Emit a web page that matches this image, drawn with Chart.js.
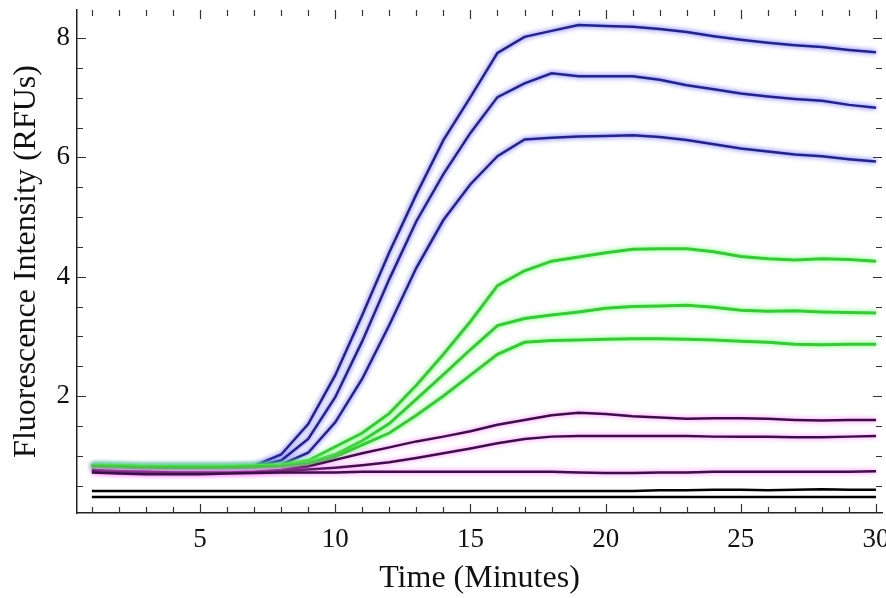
<!DOCTYPE html>
<html><head><meta charset="utf-8">
<script src="https://cdn.jsdelivr.net/npm/chart.js@4.4.1/dist/chart.umd.min.js"></script>
<style>html,body{margin:0;padding:0;background:#fff}</style>
</head><body>
<canvas id="c" width="886" height="598"></canvas>
<script>
const minutes = [1,2,3,4,5,6,7,8,9,10,11,12,13,14,15,16,17,18,19,20,21,22,23,24,25,26,27,28,29,30];
const blue1 = [0.84,0.83,0.82,0.82,0.82,0.82,0.83,1.02,1.53,2.35,3.36,4.41,5.38,6.29,7.01,7.75,8.02,8.12,8.22,8.20,8.19,8.15,8.10,8.03,7.97,7.92,7.88,7.85,7.80,7.76];
const blue2 = [0.83,0.82,0.81,0.81,0.81,0.81,0.82,0.92,1.28,1.98,2.92,3.96,4.93,5.72,6.41,7.01,7.24,7.41,7.36,7.36,7.36,7.30,7.21,7.14,7.07,7.02,6.98,6.95,6.88,6.83];
const blue3 = [0.82,0.81,0.80,0.80,0.80,0.80,0.81,0.85,1.05,1.56,2.29,3.19,4.15,4.95,5.55,6.02,6.30,6.33,6.35,6.36,6.37,6.34,6.29,6.22,6.15,6.10,6.05,6.02,5.97,5.93];
const green1 = [0.84,0.83,0.82,0.82,0.82,0.82,0.83,0.84,0.92,1.15,1.38,1.71,2.18,2.70,3.25,3.85,4.10,4.26,4.33,4.40,4.46,4.47,4.47,4.42,4.34,4.30,4.28,4.30,4.29,4.26];
const green2 = [0.83,0.82,0.81,0.81,0.81,0.81,0.82,0.83,0.88,1.02,1.25,1.54,1.95,2.36,2.78,3.18,3.30,3.36,3.41,3.47,3.50,3.51,3.52,3.49,3.44,3.42,3.43,3.41,3.40,3.39];
const green3 = [0.82,0.81,0.80,0.80,0.80,0.80,0.81,0.82,0.86,0.98,1.18,1.38,1.68,2.00,2.35,2.70,2.90,2.93,2.94,2.95,2.96,2.96,2.95,2.94,2.92,2.90,2.87,2.86,2.87,2.87];
const purple1 = [0.76,0.74,0.73,0.72,0.72,0.72,0.73,0.76,0.82,0.93,1.04,1.14,1.24,1.32,1.41,1.52,1.60,1.68,1.72,1.70,1.66,1.64,1.62,1.63,1.63,1.62,1.60,1.59,1.60,1.60];
const purple2 = [0.74,0.72,0.71,0.71,0.71,0.71,0.72,0.74,0.77,0.80,0.84,0.89,0.96,1.04,1.12,1.21,1.28,1.32,1.33,1.33,1.33,1.33,1.33,1.32,1.32,1.32,1.31,1.31,1.32,1.33];
const purple3 = [0.72,0.70,0.69,0.69,0.69,0.70,0.71,0.72,0.72,0.72,0.73,0.73,0.73,0.73,0.73,0.73,0.73,0.73,0.72,0.71,0.71,0.72,0.72,0.73,0.73,0.73,0.73,0.73,0.73,0.74];
const black1 = [0.41,0.41,0.41,0.41,0.41,0.41,0.41,0.41,0.41,0.41,0.41,0.41,0.41,0.41,0.41,0.41,0.41,0.41,0.41,0.41,0.41,0.42,0.42,0.43,0.43,0.42,0.43,0.44,0.43,0.43];
const black2 = [0.31,0.31,0.31,0.31,0.31,0.31,0.31,0.31,0.31,0.31,0.31,0.31,0.31,0.31,0.31,0.31,0.31,0.31,0.31,0.31,0.31,0.31,0.31,0.31,0.31,0.31,0.31,0.31,0.31,0.31];

const xTickLabels = [5,10,15,20,25,30];
const yTickLabels = [2,4,6,8];
const xMinorTicks = [1,2,3,4,5,6,7,8,9,10,11,12,13,14,15,16,17,18,19,20,21,22,23,24,25,26,27,28,29,30];
const yMinorTicks = [0.5,1,1.5,2,2.5,3,3.5,4,4.5,5,5.5,6,6.5,7,7.5,8];

const seriesList = [black2, black1, purple3, purple2, purple1, green3, green2, green1, blue3, blue2, blue1];
const coreColors = ['#000000','#000000','#3d0f48','#3d0f48','#3d0f48','#38c838','#38c838','#38c838','#23238a','#23238a','#23238a'];
const glowColors = ['rgba(0,0,0,0)','rgba(0,0,0,0)','#ff70ff','#ff70ff','#ff70ff','#60ff60','#60ff60','#60ff60','#4545ff','#4545ff','#4545ff'];
const lineWidths = [2.5,2.5,2.5,2.5,2.5,3,3,3,2.5,2.5,2.5];

const datasets = seriesList.map((s,i)=>({
  data: minutes.map((m,j)=>({x:m,y:s[j]})),
  borderColor: coreColors[i],
  borderWidth: lineWidths[i],
  pointRadius: 0,
  tension: 0,
  fill: false
}));

const glow = {
  id:'glow',
  beforeDatasetDraw(chart,args){
    const ctx = chart.ctx; ctx.save();
    ctx.shadowColor = glowColors[args.index]; ctx.shadowBlur = 5;
  },
  afterDatasetDraw(chart){ chart.ctx.restore(); }
};

const frameTicks = {
  id:'frameTicks',
  afterDatasetsDraw(chart){
    const {ctx, chartArea:a, scales:{x,y}} = chart;
    ctx.save(); ctx.strokeStyle='#333'; ctx.lineWidth=1.2;
    ctx.beginPath();
    xMinorTicks.forEach(v=>{
      const px = Math.round(x.getPixelForValue(v))+0.5;
      const L = xTickLabels.includes(v)?9:6;
      ctx.moveTo(px,a.bottom); ctx.lineTo(px,a.bottom-L);
      ctx.moveTo(px,a.top); ctx.lineTo(px,a.top+L);
    });
    yMinorTicks.forEach(v=>{
      const py = Math.round(y.getPixelForValue(v))+0.5;
      const L = yTickLabels.includes(v)?9:6;
      ctx.moveTo(a.left,py); ctx.lineTo(a.left+L,py);
      ctx.moveTo(a.right,py); ctx.lineTo(a.right-L,py);
    });
    ctx.stroke(); ctx.restore();
  }
};

new Chart(document.getElementById('c'),{
  type:'line',
  data:{datasets},
  plugins:[glow,frameTicks],
  options:{
    responsive:false, animation:false,
    layout:{padding:{top:10,right:4,left:0,bottom:0}},
    plugins:{legend:{display:false},tooltip:{enabled:false}},
    scales:{
      x:{type:'linear',min:0.45,max:30.22,
        afterBuildTicks:s=>{s.ticks=xTickLabels.map(v=>({value:v}));},
        afterFit:s=>{s.height=85;s.paddingLeft=0;s.paddingRight=0;},
        grid:{display:false},
        border:{display:true,color:'#222',width:1.5},
        ticks:{color:'#111',font:{family:'Liberation Serif',size:27},padding:3,maxRotation:0,autoSkip:false},
        title:{display:true,text:'Time (Minutes)',color:'#111',font:{family:'Liberation Serif',size:32},padding:{top:0,bottom:0}}
      },
      y:{type:'linear',min:0.04,max:8.47,
        afterBuildTicks:s=>{s.ticks=yTickLabels.map(v=>({value:v}));},
        afterFit:s=>{s.width=77;s.paddingTop=0;s.paddingBottom=0;},
        grid:{display:false,drawTicks:false,tickLength:0},
        border:{display:true,color:'#222',width:1.5},
        ticks:{color:'#111',font:{family:'Liberation Serif',size:27},padding:7},
        title:{display:true,text:'Fluorescence Intensity (RFUs)',color:'#111',font:{family:'Liberation Serif',size:32},padding:{top:7,bottom:0}}
      }
    }
  }
});
</script>
</body></html>
